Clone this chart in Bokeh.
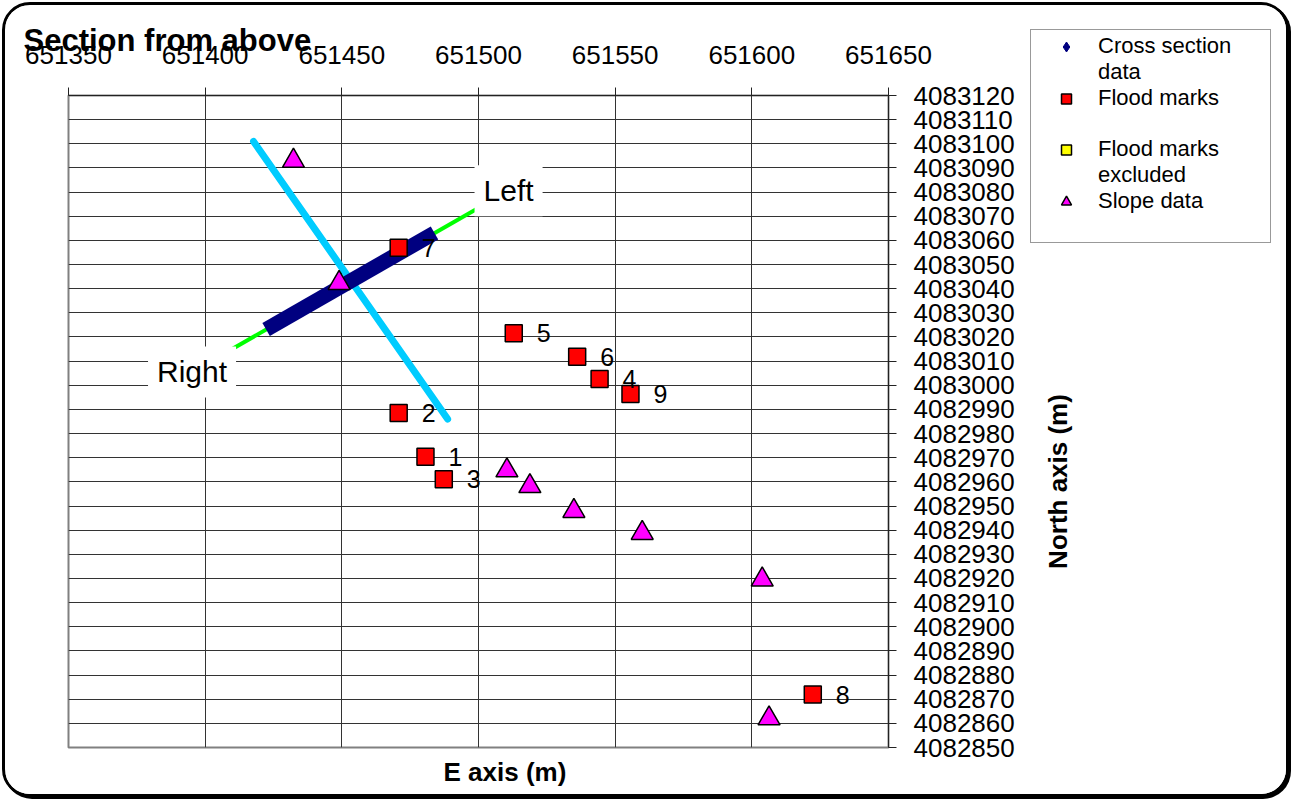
import math
from bokeh.plotting import figure
from bokeh.layouts import row, column
from bokeh.models import (Range1d, FixedTicker, Label, Legend, LegendItem, Title,
                          ColumnDataSource, NumeralTickFormatter)
from bokeh.core.properties import value
from bokeh.embed import file_html
from bokeh.resources import INLINE

# ---------------- data ----------------
x_ticks = [651350, 651400, 651450, 651500, 651550, 651600, 651650]
y_ticks = [4082850, 4082860, 4082870, 4082880, 4082890, 4082900, 4082910,
           4082920, 4082930, 4082940, 4082950, 4082960, 4082970, 4082980,
           4082990, 4083000, 4083010, 4083020, 4083030, 4083040, 4083050,
           4083060, 4083070, 4083080, 4083090, 4083100, 4083110, 4083120]

# Flood marks (E, N) with their ids
flood_id = ["1", "2", "3", "4", "5", "6", "7", "8", "9"]
flood_e = [651480.6, 651470.8, 651487.3, 651544.3, 651512.9, 651536.1, 651470.8, 651622.3, 651555.6]
flood_n = [4082970.4, 4082988.5, 4082961.1, 4083002.6, 4083021.5, 4083011.8, 4083056.9, 4082871.9, 4082996.4]

# Flood marks excluded (none)
excl_e = []
excl_n = []

# Slope data
slope_e = [651432.3, 651449.0, 651510.4, 651518.8, 651534.9, 651559.9, 651603.8, 651606.3]
slope_n = [4083092.9, 4083042.3, 4082964.7, 4082958.2, 4082947.9, 4082938.8, 4082919.5, 4082862.0]

# Cross section data
xs_e = [651422.3, 651483.9]
xs_n = [4083023.1, 4083063.1]

# Channel line (blue)
ch_e = [651417.7, 651488.7]
ch_n = [4083101.0, 4082986.0]

# Section line (green) with bank labels
sec_e = [651395.2, 651511.0]
sec_n = [4083005.5, 4083080.6]
sec_lbl = ["Right", "Left"]

legend_labels = ["Cross section", "data", "Flood marks", " ",
                 "Flood marks", "excluded", "Slope data", " "]

FONT = "Liberation Sans"
NAVY, RED, YELLOW, MAGENTA = "#000080", "#FF0000", "#FFFF00", "#FF00FF"

# ================= main chart =================
p = figure(width=1020, height=789,
           x_range=Range1d(651350, 651650), y_range=Range1d(4082850, 4083120),
           x_axis_location="above", y_axis_location="right",
           output_backend="svg", toolbar_location=None, title=None,
           min_border_left=63, min_border_right=137,
           min_border_top=90, min_border_bottom=46)

p.background_fill_color = "white"
p.border_fill_color = "white"
p.outline_line_color = "#808080"
p.outline_line_width = 2

for ax, ticks in ((p.xaxis[0], x_ticks), (p.yaxis[0], y_ticks)):
    ax.ticker = FixedTicker(ticks=ticks)
    ax.formatter = NumeralTickFormatter(format="0")
    ax.major_label_text_font = FONT
    ax.major_label_text_font_size = "26px"
    ax.major_label_text_color = "black"
    ax.major_tick_out = 8
    ax.major_tick_in = 0
    ax.minor_tick_line_color = None
    ax.major_tick_line_color = "#222222"
    ax.axis_line_color = "#222222"
p.xaxis[0].major_label_standoff = 24
p.yaxis[0].major_label_standoff = 17

p.xgrid.grid_line_color = "#333333"
p.ygrid.grid_line_color = "#333333"

p.line(sec_e, sec_n, line_color="#00FF00", line_width=4)
p.line(ch_e, ch_n, line_color="#00CCFF", line_width=7, line_cap="round")
p.line(xs_e, xs_n, line_color=NAVY, line_width=15, line_cap="butt")

p.scatter(slope_e, slope_n, marker="triangle", size=22,
          fill_color=MAGENTA, line_color="black", line_width=1.5)
flood_src = ColumnDataSource(dict(x=flood_e, y=flood_n, t=flood_id))
p.scatter("x", "y", source=flood_src, marker="square", size=17,
          fill_color=RED, line_color="black", line_width=1.5)
p.scatter(excl_e, excl_n, marker="square", size=17,
          fill_color=YELLOW, line_color="black", line_width=1.5)
p.text("x", "y", text="t", source=flood_src, x_offset=23,
       text_align="left", text_baseline="middle",
       text_font=value(FONT), text_font_size="25px", text_color="black")

for e, n, t in zip(sec_e, sec_n, sec_lbl):
    p.add_layout(Label(x=e, y=n, text=t, text_align="center",
                       text_baseline="middle", text_font=FONT,
                       text_font_size="30px", text_color="black",
                       background_fill_color="white", padding=9))

p.add_layout(Title(text="Section from above", align="left", offset=-45,
                   standoff=-31, text_font=FONT, text_font_size="31px",
                   text_font_style="bold", text_color="black"), "above")
p.add_layout(Title(text="E axis (m)", align="left", offset=375,
                   vertical_align="bottom", standoff=15, text_font=FONT,
                   text_font_size="26px", text_font_style="bold",
                   text_color="black"), "below")

# ============ legend + north-axis title (right part) ============
q = figure(width=261, height=789, x_range=Range1d(0, 1), y_range=Range1d(0, 1),
           x_axis_location=None, y_axis_location=None,
           output_backend="svg", toolbar_location=None, title=None,
           min_border_left=0, min_border_right=0,
           min_border_top=0, min_border_bottom=0)
q.background_fill_color = "white"
q.border_fill_color = "white"
q.outline_line_color = None
q.xgrid.visible = False
q.ygrid.visible = False

has_frame_align = "frame_align" in q.properties()
if has_frame_align:
    p.frame_align = False
    q.frame_align = False

nan = float("nan")
def proxy():
    return ColumnDataSource(dict(x=[nan], y=[nan]))

g_xs = q.scatter("x", "y", source=proxy(), marker="diamond",
                 fill_color=NAVY, line_color=NAVY)
g_fl = q.scatter("x", "y", source=proxy(), marker="square",
                 fill_color=RED, line_color="black", line_width=1.5)
g_ex = q.scatter("x", "y", source=proxy(), marker="square",
                 fill_color=YELLOW, line_color="black", line_width=1.5)
g_sl = q.scatter("x", "y", source=proxy(), marker="triangle",
                 fill_color=MAGENTA, line_color="black", line_width=1.5)
glyphs = [[g_xs], [], [g_fl], [], [g_ex], [], [g_sl], []]

legend = Legend(items=[LegendItem(label=l, renderers=r)
                       for l, r in zip(legend_labels, glyphs)],
                location=(5, 551), margin=0, padding=3, spacing=0,
                glyph_width=64, glyph_height=25, label_height=25,
                label_width=169, label_standoff=0,
                label_text_font=FONT, label_text_font_size="22px",
                label_text_color="black",
                border_line_color="#333333", border_line_width=1,
                background_fill_color="white", background_fill_alpha=1.0)
q.add_layout(legend)

q.add_layout(Label(x=32, y=313, x_units="screen", y_units="screen",
                   angle=math.pi / 2, text="North axis (m)", text_font=FONT,
                   text_font_size="26px", text_font_style="bold",
                   text_align="center", text_baseline="middle",
                   text_color="black"))

right_part = q if has_frame_align else column(q, spacing=0)
layout = row(p, right_part, spacing=0)
layout.styles = {"border": "3px solid black", "border-radius": "28px",
                 "box-shadow": "2px 2px 0px #000", "overflow": "hidden",
                 "margin-left": "2px", "margin-top": "2px",
                 "background-color": "white"}

open("out.html", "w").write(file_html(layout, INLINE))
